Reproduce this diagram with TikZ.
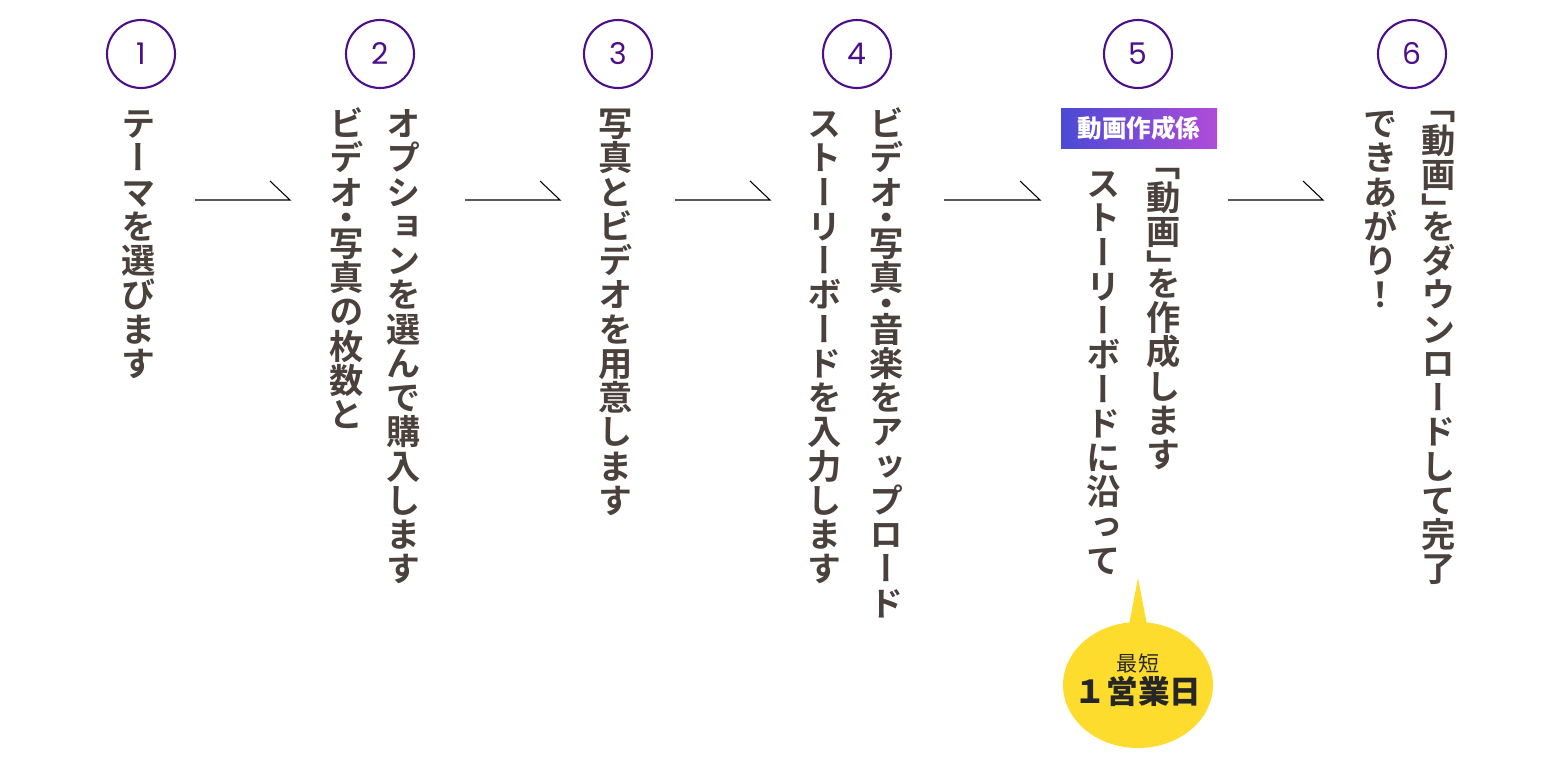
\documentclass[tikz,border=0pt]{standalone}
\usepackage{fontspec}
\newfontfamily\jp{Noto Sans CJK JP}
\newfontfamily\vjp[RawFeature={vertical;+vert}]{Noto Sans CJK JP Bold}
\newfontfamily\vjphalf[RawFeature={vertical;+vert;+vhal}]{Noto Sans CJK JP Bold}
\newfontfamily\numf{Poppins}
\newcommand\hp[1]{{\vjphalf #1}}
\definecolor{stepink}{HTML}{4A403C}
\definecolor{circpurple}{HTML}{4B0F8A}
\definecolor{bubble}{HTML}{FDDC2E}
\definecolor{gradleft}{HTML}{4A4AD6}
\definecolor{gradright}{HTML}{B04CD8}
\usetikzlibrary{shapes.geometric}

\begin{document}
\begin{tikzpicture}[x=0.02cm, y=-0.02cm,
    stepnum/.style={circle, draw=circpurple, line width=1.2pt, minimum size=1.36cm,
      inner sep=0pt, text=circpurple, font=\numf\fontsize{17}{17}\selectfont},
    vcol/.style={rotate=-90, anchor=west, inner sep=0pt, text=stepink,
      font=\vjp\fontsize{19.5}{19.5}\selectfont},
    flow/.style={line width=0.6pt}]
  \useasboundingbox (0,0) rectangle (1560,775);
  % step circles
  \node[stepnum] (N1) at (141,54) {1};
  \node[stepnum] (N2) at (380,54) {2};
  \node[stepnum] (N3) at (618,54) {3};
  \node[stepnum] (N4) at (857,54) {4};
  \node[stepnum] (N5) at (1138,54) {5};
  \node[stepnum] (N6) at (1412,54) {6};
  % vertical text columns
  \node[vcol] (T1) at (152,106) {テーマを選びます};
  \node[vcol] (T2a) at (417,106) {オプションを選んで購入します};
  \node[vcol] (T2b) at (360,106) {ビデオ\hp{・}写真の枚数と};
  \node[vcol] (T3) at (629,106) {写真とビデオを用意します};
  \node[vcol] (T4a) at (900,106) {ビデオ\hp{・}写真\hp{・}音楽をアップロード};
  \node[vcol] (T4b) at (838,106) {ストーリーボードを入力します};
  \node[vcol] (T5a) at (1177,163) {\hp{「}動画\hp{」}を作成します};
  \node[vcol] (T5b) at (1117,166) {ストーリーボードに沿って};
  \node[vcol] (T6a) at (1452,106) {\hp{「}動画\hp{」}をダウンロードして完了};
  \node[vcol] (T6b) at (1394,106) {できあがり！};
  % label
  \shade[left color=gradleft, right color=gradright] (1061,108) rectangle (1217,148);
  \node[text=white, font=\jp\bfseries\fontsize{14}{14}\selectfont] (TAG) at (1139,128) {動画作成係};
  % bubble
  \coordinate (TIP) at (1138,578);
  \fill[bubble] (1128,630) -- (TIP) -- (1148,630) -- cycle;
  \fill[bubble] (1138,685) ellipse [x radius=75, y radius=63];
  \node[align=center, text=black!85] (DAY) at (1138,680)
    {{\jp\fontsize{12}{14}\selectfont 最短}\\[1pt]{\jp\bfseries\fontsize{18}{20}\selectfont １営業日}};
  % arrows
  \foreach \a/\b in {195/290, 465/560, 675/770, 944/1040, 1228/1323}{
    \draw[flow] (\a,200) -- (\b,200) -- (\b-20,181);
  }
\end{tikzpicture}
\end{document}
